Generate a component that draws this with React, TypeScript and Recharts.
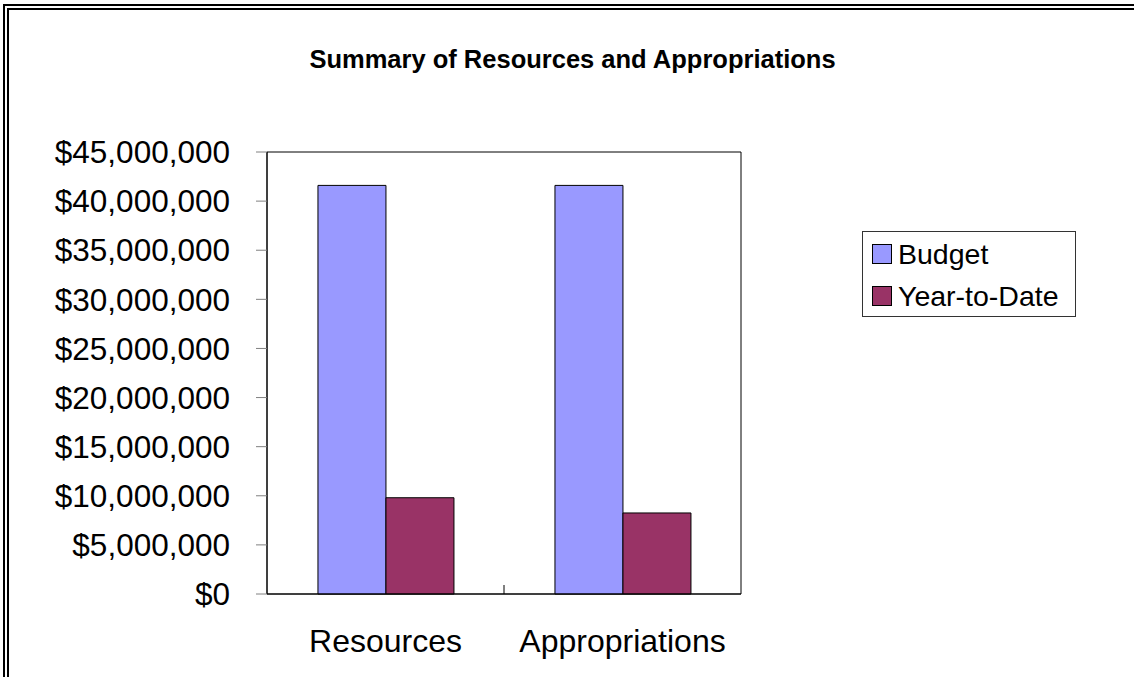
import React from 'react';
import { BarChart, Bar, XAxis, YAxis, ReferenceArea } from 'recharts';

const categories = ['Resources', 'Appropriations'];
const budget = [41600000, 41600000];
const yearToDate = [9800000, 8250000];
const yTicks = [0, 5000000, 10000000, 15000000, 20000000, 25000000, 30000000, 35000000, 40000000, 45000000];
const seriesNames = ['Budget', 'Year-to-Date'];
const seriesColors = ['#9999FF', '#993366'];

const data = categories.map((name, i) => ({ name, budget: budget[i], ytd: yearToDate[i] }));

const FONT = '"Liberation Sans", Arial, sans-serif';
const X_TICK_MARGIN = 35;

const money = (v: number) => '$' + v.toLocaleString('en-US');

// category label plus the small boundary tick between the two groups
function XTick(props: any) {
  const { x, y, payload, index } = props;
  const axisY = y - X_TICK_MARGIN;
  return (
    <g>
      {index === 0 && (
        <line x1={x + payload.offset} x2={x + payload.offset} y1={axisY - 9} y2={axisY} stroke="#000" />
      )}
      <text x={x} y={y} dy="0.71em" textAnchor="middle" fontSize={32} fontFamily={FONT} fill="#000">
        {payload.value}
      </text>
    </g>
  );
}

function LegendBox() {
  return (
    <div
      style={{
        position: 'absolute',
        left: 862,
        top: 231,
        border: '1px solid #333',
        width: 212,
        height: 84,
        fontFamily: FONT,
        fontSize: 28.5,
        color: '#000',
        background: '#fff',
      }}
    >
      {seriesNames.map((label, i) => (
        <div key={label} style={{ display: 'flex', alignItems: 'center', height: 44, marginTop: i === 0 ? 0 : -2, paddingLeft: 9 }}>
          <span style={{ width: 18, height: 18, background: seriesColors[i], border: '1px solid #000', marginRight: 6 }} />
          <span style={{ lineHeight: '28px' }}>{label}</span>
        </div>
      ))}
    </div>
  );
}

export default function App() {
  return (
    <div style={{ position: 'absolute', left: 0, top: 0, width: 1134, height: 677, overflow: 'hidden', background: '#fff' }}>
      <div
        style={{
          position: 'absolute',
          left: 3,
          top: 4,
          width: 1300,
          height: 900,
          border: '6px double #000',
        }}
      />
      <div
        style={{
          position: 'absolute',
          left: 0,
          width: 1145,
          top: 45,
          textAlign: 'center',
          fontFamily: FONT,
          fontWeight: 'bold',
          fontSize: 25.5,
          color: '#000',
        }}
      >
        Summary of Resources and Appropriations
      </div>
      <div style={{ position: 'absolute', left: 0, top: 0 }}>
        <BarChart
          width={1134}
          height={677}
          data={data}
          margin={{ top: 152, right: 393, bottom: 0, left: 0 }}
          barCategoryGap="21.5%"
          barGap={0}
        >
          <ReferenceArea y1={0} y2={45000000} fill="none" stroke="#000" strokeWidth={1} />
          <XAxis
            dataKey="name"
            height={83}
            tickLine={false}
            tickSize={0}
            tickMargin={X_TICK_MARGIN}
            axisLine={{ stroke: '#000' }}
            tick={<XTick />}
            interval={0}
          />
          <YAxis
            width={267}
            domain={[0, 45000000]}
            ticks={yTicks}
            tickFormatter={money}
            tickSize={11}
            tickMargin={26}
            tickLine={{ stroke: '#808080' }}
            axisLine={{ stroke: '#000' }}
            tick={{ fontSize: 31.5, fontFamily: FONT, fill: '#000' }}
            interval={0}
          />
          <Bar dataKey="budget" name={seriesNames[0]} fill={seriesColors[0]} stroke="#000" strokeWidth={1} isAnimationActive={false} />
          <Bar dataKey="ytd" name={seriesNames[1]} fill={seriesColors[1]} stroke="#000" strokeWidth={1} isAnimationActive={false} />
        </BarChart>
      </div>
      <LegendBox />
    </div>
  );
}
